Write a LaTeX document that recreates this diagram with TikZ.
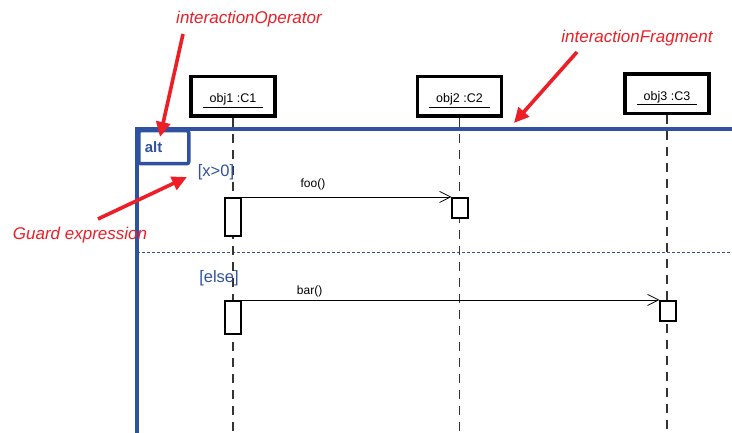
\documentclass[tikz,border=0pt]{standalone}
\usepackage{fontspec}
\setmainfont{Liberation Sans}
\usetikzlibrary{arrows.meta}
\definecolor{fragblue}{RGB}{47,82,160}
\definecolor{notered}{RGB}{236,30,38}
\newcommand{\fsize}[1]{\fontsize{#1}{#1}\selectfont}

\begin{document}
\begin{tikzpicture}[x=1pt, y=-1pt,
    objbox/.style={draw, line width=3.5pt, fill=white, minimum width=84pt, minimum height=39.5pt, inner sep=0pt, font=\fsize{12.5}},
    actbox/.style={draw, line width=1.6pt, fill=white, minimum width=15.5pt, inner sep=0pt},
    lifeline/.style={line width=1.2pt, color=black!80, dash pattern=on 9pt off 7pt},
    msg/.style={line width=0.8pt, -{Straight Barb[length=11pt,width=11pt]}},
    msglabel/.style={font=\fsize{12}, inner sep=1pt},
    guard/.style={text=fragblue, font=\fsize{16.5}},
    note/.style={text=notered, font=\fsize{17}\itshape},
    pointer/.style={notered, line width=3.6pt, -{Triangle[length=15pt,width=14pt]}}]
    \useasboundingbox (0,0) rectangle (732,433);
    \coordinate (bottom) at (0,440);

    % combined fragment
    \draw[fragblue, line width=4pt] (137,440) |- (740,129);
    \node[draw=fragblue, line width=3.5pt, rounded corners=2pt, anchor=north west,
        minimum width=50pt, minimum height=33pt, inner xsep=6pt, text width=38pt, align=left,
        text=fragblue, font=\fsize{15}\bfseries] (alt) at (137,129) {alt};
    \draw[fragblue, line width=1pt, dash pattern=on 3pt off 2pt] (137,253) -- (740,253);

    % lifelines
    \foreach \n/\x/\y in {1/233/96.5, 2/459.5/96.5, 3/667/94}
        \node[objbox] (obj\n) at (\x,\y)
            {\raisebox{-6.5pt}[0pt][0pt]{\underline{\hspace{7pt}obj\n{} :C\n\hspace{7pt}}}};
    \foreach \n in {1, 2, 3}
        \draw[lifeline] (obj\n.south) -- (obj\n.south |- bottom);

    \node[actbox, minimum height=38.5pt] (act1) at (233,217) {};
    \node[actbox, minimum height=20.5pt] (act2) at (460,208) {};
    \node[actbox, minimum height=33.5pt] (act3) at (233,317.5) {};
    \node[actbox, minimum height=20.5pt] (act4) at (668,311) {};

    \draw[msg] (act1.north east) -- node[msglabel, above=6pt, pos=0.34] {foo()} (act2.north west);
    \draw[msg] (act3.north east) -- node[msglabel, above=2pt, pos=0.163] {bar()} (act4.north west);

    \node[guard] (guard1) at (216,172) {[x>0]};
    \node[guard] (guard2) at (219,278) {[else]};

    % annotations
    \node[note] (opnote) at (249,19) {interactionOperator};
    \node[note] (fragnote) at (637,38) {interactionFragment};
    \node[note] (guardnote) at (80,235) {Guard expression};
    \coordinate (optail) at (183,34);
    \coordinate (optip) at (160,137);
    \coordinate (fragtail) at (577,52);
    \coordinate (fragtip) at (514,123);
    \coordinate (guardtail) at (98,219);
    \coordinate (guardtip) at (187,177);
    \draw[pointer] (optail) -- (optip);
    \draw[pointer] (fragtail) -- (fragtip);
    \draw[pointer] (guardtail) -- (guardtip);

\end{tikzpicture}
\end{document}
